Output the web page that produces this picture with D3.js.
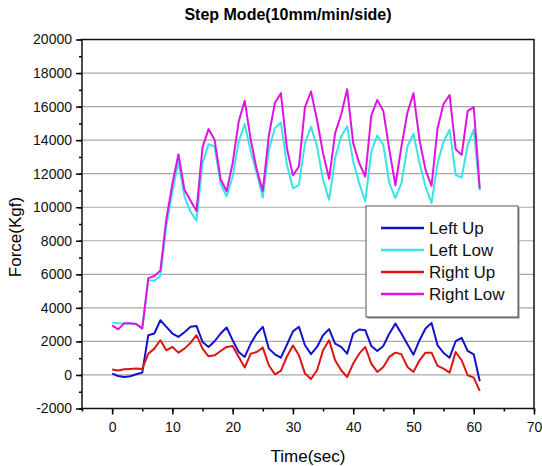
<html>

<head>
    <meta charset="utf-8">
    <script src="https://d3js.org/d3.v7.min.js"></script>
    <style>
        body { margin: 0; background: #fff; }
    </style>
</head>

<body>
    <div id="my_dataviz"></div>
</body>
<script>

    // data (1 sample per second)
    var timeSec = [0, 1, 2, 3, 4, 5, 6, 7, 8, 9, 10, 11, 12, 13, 14, 15, 16, 17, 18, 19, 20,
        21, 22, 23, 24, 25, 26, 27, 28, 29, 30, 31, 32, 33, 34, 35, 36, 37, 38, 39, 40,
        41, 42, 43, 44, 45, 46, 47, 48, 49, 50, 51, 52, 53, 54, 55, 56, 57, 58, 59, 60, 61];

    var leftUp = [80, -60, -120, -80, 40, 140, 2370, 2470, 3260, 2870, 2470, 2270, 2550, 2870, 2925,
        1970, 1670, 2010, 2470, 2830, 2070, 1370, 1075, 1870, 2470, 2870, 1570, 1230, 1030, 1800,
        2600, 2870, 1770, 1240, 1670, 2370, 2730, 1870, 1670, 1270, 2470, 2710, 2670, 1730, 1430,
        1730, 2470, 3060, 2470, 1830, 1210, 2070, 2770, 3100, 1770, 1310, 1030, 2010, 2210, 1430,
        1230, -380];

    var leftLow = [3120, 3080, 3060, 3060, 3020, 2800, 5650, 5620, 5900, 8900, 10900, 12730, 10640,
        9740, 9200, 12630, 13760, 13620, 11390, 10640, 11830, 13920, 14955, 13320, 12030, 10580,
        13420, 14710, 15050, 12530, 11130, 11330, 13820, 14790, 13620, 11630, 10440, 12930, 14220,
        14820, 12730, 11430, 10340, 13320, 14280, 13720, 11430, 10540, 11430, 13620, 14380, 12630,
        11230, 10240, 12630, 13920, 14620, 11930, 11770, 13720, 14620, 11000];

    var rightUp = [320, 260, 340, 360, 380, 360, 1270, 1570, 2070, 1470, 1670, 1330, 1570, 1910, 2370,
        1570, 1110, 1170, 1430, 1670, 1730, 1075, 440, 1270, 1370, 1630, 580, 40, 240, 1100,
        1760, 1170, 80, -240, 280, 1470, 2070, 875, 280, -120, 680, 1270, 1670, 680, 180,
        480, 1075, 1330, 1230, 480, 180, 875, 1330, 1330, 540, 380, 140, 1370, 875, -20,
        -160, -950];

    var rightLow = [2960, 2720, 3080, 3080, 3040, 2760, 5770, 5900, 6220, 9300, 11400, 13160, 11035,
        10400, 9780, 13580, 14660, 14020, 11670, 10950, 12630, 15115, 16350, 14020, 12230, 10975,
        14260, 16210, 16800, 13520, 11900, 12430, 15970, 16900, 15200, 13220, 11690, 14420, 15510,
        17040, 13820, 12630, 11830, 15460, 16400, 15740, 13420, 11310, 13620, 15640, 16800, 14020,
        12230, 11270, 14710, 16170, 16690, 13460, 13120, 15740, 15970, 11110];

    var seriesNames = ["Left Up", "Left Low", "Right Up", "Right Low"];
    var seriesColors = ["#1212cc", "#38e4e4", "#dd1414", "#e014e0"];

    var xTicks = [0, 10, 20, 30, 40, 50, 60, 70];
    var yTicks = [-2000, 0, 2000, 4000, 6000, 8000, 10000, 12000, 14000, 16000, 18000, 20000];

    // set the dimensions and margins of the graph
    var margin = { top: 39.5, right: 8, bottom: 57.5, left: 82 },
        width = 542 - margin.left - margin.right,
        height = 466 - margin.top - margin.bottom;

    var svg = d3.select("#my_dataviz")
        .append("svg")
        .attr("width", 542)
        .attr("height", 466)
        .style("font-family", "'Liberation Sans', Arial, sans-serif")
        .append("g")
        .attr("transform", "translate(" + margin.left + "," + margin.top + ")");

    var x = d3.scaleLinear().domain([-5, 70]).range([0, width]);
    var y = d3.scaleLinear().domain([-2000, 20000]).range([height, 0]);

    // horizontal grid lines
    svg.append("g")
        .selectAll("line")
        .data(yTicks.slice(1, -1))
        .enter()
        .append("line")
        .attr("x1", 0)
        .attr("x2", width)
        .attr("y1", function (d) { return y(d) })
        .attr("y2", function (d) { return y(d) })
        .style("stroke", "#a8a8a8")
        .style("stroke-width", 1.2);

    // X axis (major + minor ticks)
    svg.append("g")
        .attr("transform", "translate(0," + height + ")")
        .call(d3.axisBottom(x).tickValues(d3.range(-5, 71, 5)).tickSize(3).tickFormat(""))
        .call(function (g) { g.select(".domain").remove() })
        .selectAll("line").style("stroke-width", 1.5);
    var xAxis = svg.append("g")
        .attr("transform", "translate(0," + height + ")")
        .call(d3.axisBottom(x).tickValues(xTicks).tickSize(6).tickPadding(8));
    xAxis.select(".domain").remove();
    xAxis.selectAll("line").style("stroke-width", 1.5);
    xAxis.selectAll("text").style("font-size", "14px").style("fill", "#111");

    // Y axis (major + minor ticks); plain hyphen for negatives like the original
    svg.append("g")
        .call(d3.axisLeft(y).tickValues(d3.range(-2000, 20001, 1000)).tickSize(3).tickFormat(""))
        .call(function (g) { g.select(".domain").remove() })
        .selectAll("line").style("stroke-width", 1.5);
    var yAxis = svg.append("g")
        .call(d3.axisLeft(y).tickValues(yTicks).tickSize(6).tickPadding(4)
            .tickFormat(function (d) { return String(d) }));
    yAxis.select(".domain").remove();
    yAxis.selectAll("line").style("stroke-width", 1.5);
    yAxis.selectAll("text").style("font-size", "14px").style("fill", "#111");

    // lines
    var allSeries = [leftUp, leftLow, rightUp, rightLow];
    var line = d3.line()
        .x(function (d, i) { return x(timeSec[i]) })
        .y(function (d) { return y(d) });

    svg.append("g")
        .selectAll("path")
        .data(allSeries)
        .enter()
        .append("path")
        .attr("d", function (d) { return line(d) })
        .style("fill", "none")
        .style("stroke", function (d, i) { return seriesColors[i] })
        .style("stroke-width", 2)
        .style("stroke-linejoin", "round");

    // frame
    svg.append("rect")
        .attr("x", 0)
        .attr("y", 0)
        .attr("width", width)
        .attr("height", height)
        .style("fill", "none")
        .style("stroke", "#111")
        .style("stroke-width", 1.5);

    // legend
    var legend = svg.append("g")
        .attr("transform", "translate(" + (366 - margin.left) + "," + (206 - margin.top) + ")");
    legend.append("rect")
        .attr("x", 1.5)
        .attr("y", 1.5)
        .attr("width", 152)
        .attr("height", 111)
        .style("fill", "#888");
    legend.append("rect")
        .attr("width", 152)
        .attr("height", 111)
        .style("fill", "white")
        .style("stroke", "#555")
        .style("stroke-width", 1);
    var rows = legend.selectAll(".row")
        .data(seriesNames)
        .enter()
        .append("g")
        .attr("transform", function (d, i) { return "translate(0," + (22 + i * 22) + ")" });
    rows.append("line")
        .attr("x1", 15)
        .attr("x2", 58)
        .style("stroke", function (d, i) { return seriesColors[i] })
        .style("stroke-width", 2.5);
    rows.append("text")
        .attr("x", 63)
        .attr("dy", "0.36em")
        .style("font-size", "17px")
        .style("fill", "#111")
        .text(function (d) { return d });

    // titles
    svg.append("text")
        .attr("x", 288 - margin.left)
        .attr("y", 20 - margin.top)
        .attr("text-anchor", "middle")
        .style("font-size", "16px")
        .style("font-weight", "bold")
        .text("Step Mode(10mm/min/side)");

    svg.append("text")
        .attr("x", width / 2)
        .attr("y", 462 - margin.top)
        .attr("text-anchor", "middle")
        .style("font-size", "17px")
        .text("Time(sec)");

    svg.append("text")
        .attr("transform", "translate(" + (21 - margin.left) + "," + (237 - margin.top) + ") rotate(-90)")
        .attr("text-anchor", "middle")
        .style("font-size", "17px")
        .text("Force(Kgf)");

</script>

</html>
